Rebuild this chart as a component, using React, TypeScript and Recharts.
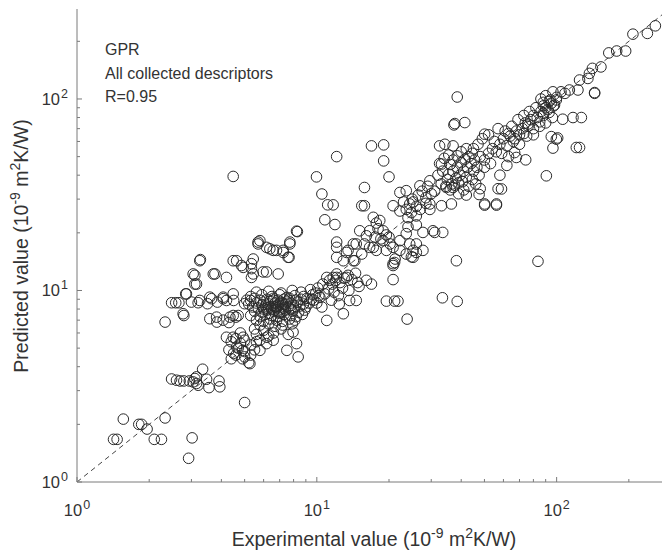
import React from 'react'
import { ScatterChart, Scatter, XAxis, YAxis, ReferenceLine } from 'recharts'

// axis ranges and tick positions (log scale, decades get labels)
const xDomain = [1, 275]
const yDomain = [1, 295]
const decades = [1, 10, 100]
const xTicks = [1, 2, 3, 4, 5, 6, 7, 8, 9, 10, 20, 30, 40, 50, 60, 70, 80, 90, 100, 200]
const yTicks = [1, 2, 3, 4, 5, 6, 7, 8, 9, 10, 20, 30, 40, 50, 60, 70, 80, 90, 100, 200]

const annotation = ['GPR', 'All collected descriptors', 'R=0.95']

const lowPoints = [
  [1.42, 1.67], [1.47, 1.67], [1.56, 2.13], [1.81, 2.0], [1.86, 2.0], [1.96, 1.89], [2.1, 1.67], [2.25, 1.67],
  [2.33, 2.16], [3.02, 1.7], [2.92, 1.33], [2.48, 3.45], [2.69, 3.37], [2.79, 3.37], [2.94, 3.37], [3.1, 3.47],
  [3.15, 3.27], [3.34, 3.88], [3.47, 3.44], [3.55, 3.11], [3.91, 3.37], [3.94, 3.14], [3.15, 3.54], [3.05, 3.33],
  [3.2, 3.2], [2.6, 3.4], [5.0, 2.6],
]

const leftBand = [
  [4.2, 5.7], [4.4, 5.4], [4.6, 5.6], [4.8, 5.3], [5.0, 5.5], [5.3, 5.2], [5.6, 5.4], [4.3, 4.9], [4.5, 4.7],
  [4.7, 5.0], [5.0, 4.8], [5.3, 4.6], [5.5, 4.9], [4.4, 4.4], [4.6, 4.6], [4.9, 4.4], [5.2, 4.2], [5.26, 4.15],
  [5.0, 4.5], [4.9, 4.87], [5.79, 4.87], [6.58, 5.5], [7.96, 6.07], [8.23, 5.28], [8.36, 4.5], [5.6, 5.9],
  [6.2, 5.7], [4.8, 6.0], [4.07, 7.0], [4.3, 6.8], [7.5, 4.87], [6.17, 5.28], [5.79, 5.5], [4.93, 5.7],
  [4.48, 5.7], [4.63, 5.07], [6.0, 6.2], [6.6, 6.0], [7.1, 6.3], [7.6, 5.9], [6.3, 5.8], [5.5, 6.3],
  [2.48, 8.63], [2.58, 8.63], [2.66, 8.63], [3.0, 8.7], [3.2, 8.63], [3.64, 9.06], [4.07, 9.06], [2.33, 6.84],
  [2.79, 7.4], [2.84, 9.6], [3.1, 10.8], [3.1, 12.0], [3.25, 14.3], [3.27, 14.5], [3.58, 7.12], [3.83, 6.84],
  [3.76, 12.2], [4.2, 11.7], [4.48, 14.3], [4.85, 13.5], [5.43, 14.6], [5.43, 12.2], [6.17, 12.5], [6.9, 12.2],
  [5.34, 13.0], [3.5, 8.53], [3.85, 8.7], [4.2, 8.87], [4.5, 8.87], [5.0, 8.53], [5.3, 8.87], [4.48, 7.4],
  [4.6, 7.26], [4.7, 7.4], [3.05, 12.2], [3.15, 10.8], [3.7, 12.2], [2.86, 9.6], [3.25, 8.87], [2.77, 7.56],
  [3.58, 9.23], [4.07, 9.23], [4.48, 9.6], [3.82, 7.26], [4.34, 7.26], [4.63, 14.3], [4.93, 13.2], [5.34, 13.8],
  [5.97, 12.5], [5.34, 11.7],
]

const denseCluster = [
  [5.6, 9.8], [6.3, 9.9], [7.1, 9.7], [7.9, 10.0], [8.6, 9.8], [9.4, 10.1],
  [5.3, 9.3], [5.9, 9.5], [6.5, 9.3], [7.0, 9.5], [7.5, 9.2], [8.1, 9.4], [8.8, 9.3], [9.6, 9.5], [10.2, 9.4],
  [5.1, 8.9], [5.5, 9.1], [5.8, 8.9], [6.2, 9.0], [6.6, 9.1], [6.9, 8.9], [7.3, 9.0], [7.7, 9.1], [8.2, 8.9],
  [8.6, 9.0], [9.1, 9.1], [9.7, 8.9],
  [5.2, 8.5], [5.6, 8.6], [6.0, 8.7], [6.3, 8.5], [6.7, 8.6], [7.1, 8.7], [7.4, 8.5], [7.8, 8.6], [8.3, 8.7],
  [8.8, 8.5], [9.3, 8.6],
  [5.4, 8.2], [5.7, 8.1], [6.1, 8.3], [6.4, 8.2], [6.8, 8.1], [7.2, 8.3], [7.6, 8.2], [8.0, 8.1], [8.5, 8.3], [9.0, 8.2],
  [5.5, 7.8], [5.9, 7.7], [6.2, 7.9], [6.6, 7.8], [7.0, 7.7], [7.4, 7.9], [7.9, 7.8], [8.4, 7.7], [8.9, 7.9],
  [5.3, 7.4], [5.8, 7.3], [6.1, 7.5], [6.5, 7.4], [6.9, 7.3], [7.3, 7.5], [7.8, 7.4], [8.2, 7.3], [8.7, 7.5],
  [5.6, 7.0], [6.0, 6.9], [6.4, 7.1], [6.8, 7.0], [7.2, 6.9], [7.7, 7.1], [8.1, 7.0],
  [5.8, 6.6], [6.3, 6.7], [6.7, 6.5], [7.2, 6.6], [7.9, 6.7],
  [6.5, 8.0], [6.9, 8.4], [7.1, 8.0], [6.0, 8.0], [7.5, 8.7], [7.0, 7.6], [6.3, 7.6], [6.6, 8.9], [7.8, 8.0], [5.9, 8.4],
  [6.4, 8.8], [6.8, 8.3], [7.3, 8.1], [6.2, 8.1], [7.6, 8.9], [6.9, 7.8], [6.7, 8.2], [7.2, 8.6],
  [10.3, 9.2], [10.8, 9.6], [11.2, 10.2], [11.6, 10.8], [12.0, 11.3], [12.5, 11.0], [13.0, 11.6], [13.5, 12.0],
  [14.0, 11.4], [14.5, 12.3], [10.6, 10.8], [11.3, 11.3], [11.0, 11.7], [12.1, 12.2], [13.3, 11.7], [14.2, 14.3],
  [13.7, 8.87], [14.6, 8.87], [11.0, 6.98], [12.9, 7.56], [10.0, 8.6], [10.5, 8.2], [11.5, 8.9], [12.3, 9.4],
  [12.8, 10.3], [13.6, 10.0], [15.0, 10.5], [14.8, 11.0], [9.5, 9.0], [9.9, 9.7], [10.1, 10.3], [12.4, 8.5],
  [11.8, 9.8], [16.1, 11.3], [16.9, 10.8], [11.7, 11.7], [12.1, 11.7],
]

const midPoints = [
  [5.69, 17.5], [6.37, 16.5], [6.79, 16.2], [7.24, 16.2], [7.72, 17.5], [7.59, 14.9], [5.69, 17.9], [6.17, 16.8],
  [7.72, 17.9], [8.23, 20.4], [8.3, 20.3], [7.24, 15.8], [6.58, 16.2], [5.79, 18.2], [7.66, 14.9], [4.48, 39.4],
  [12.1, 50], [9.97, 39.2], [10.5, 31.9], [11.1, 28.0], [11.7, 28.0], [10.8, 23.4], [11.9, 22.1], [16.9, 56.9],
  [19.0, 57.6], [19.0, 47.5], [20.0, 39.2], [15.8, 34.5],
  [15.4, 15.5], [12.1, 16.8], [13.5, 16.2], [12.1, 14.9], [14.4, 14.3], [14.2, 17.5], [15.8, 17.5], [17.2, 16.8],
  [12.1, 17.9], [13.3, 15.8], [12.9, 14.3], [14.6, 17.5],
  [16.1, 19.3], [15.1, 20.5], [16.6, 16.8], [17.7, 16.2], [19.5, 16.2], [20.8, 16.8], [22.2, 18.2], [23.6, 19.8],
  [25.2, 14.9], [27.7, 16.2], [30.5, 20.5], [33.5, 20.1], [20.8, 13.8], [21.2, 14.6], [24.4, 17.5], [26.0, 17.5],
  [18.3, 23.2], [18.9, 20.5], [18.0, 21.0], [19.5, 19.5], [17.5, 19.0], [18.5, 18.6], [20.0, 19.0], [17.7, 22.5],
  [16.6, 20.5], [15.4, 27.7], [15.8, 27.7], [17.2, 24.1],
  [20.8, 27.7], [22.2, 32.5], [23.6, 33.2], [24.4, 28.3], [26.9, 35.2], [29.6, 37.4], [29.6, 28.3], [33.1, 27.7],
  [36.4, 28.3], [23.0, 29.0], [23.6, 26.5], [25.2, 29.0], [22.2, 26.0], [24.8, 25.5], [26.0, 24.5], [24.0, 24.0],
  [27.0, 26.5], [28.5, 28.5], [29.6, 26.5], [24.0, 21.5], [26.0, 22.0], [23.6, 15.5], [24.8, 15.0],
  [21.1, 14.0], [20.8, 13.5], [26.0, 15.8], [25.2, 16.2], [22.2, 16.2], [20.2, 17.5], [18.9, 18.2],
  [31.0, 20.1], [27.7, 20.1], [50.1, 27.9], [56.1, 27.9],
]

const outliers = [
  [38.2, 14.3], [83.6, 14.2], [33.4, 9.16], [38.5, 8.77], [20.8, 11.4], [19.5, 8.8], [21.1, 8.8], [21.8, 8.8],
  [23.8, 7.09], [90.6, 39.7], [38.5, 102.4], [37.6, 74.4], [41.4, 75.3], [37.3, 73.2],
]

const upperBand = [
  [34.2, 58], [37, 56.9], [32.5, 56.9], [33.1, 45.7], [34.7, 34.5], [37.0, 34.5], [50.1, 65.5],
  [32.0, 40.0], [33.5, 42.0], [35.0, 38.0], [36.5, 36.0], [38.0, 38.5], [39.5, 40.0], [41.0, 42.0], [42.5, 44.0],
  [44.0, 46.0], [45.5, 48.0], [33.0, 36.0], [34.5, 35.0], [36.0, 33.5], [37.5, 35.5], [39.0, 36.5], [40.5, 37.0],
  [42.0, 39.0], [35.5, 40.5], [37.0, 42.0], [38.5, 44.0], [40.0, 46.5], [41.5, 48.5], [43.0, 50.0], [34.0, 49.0],
  [35.5, 51.0], [37.0, 48.0], [38.5, 50.5], [40.0, 53.0], [32.5, 46.0], [36.0, 45.5], [42.0, 55.0], [44.5, 52.0],
  [46.5, 44.0], [47.5, 40.0], [45.0, 42.0], [39.0, 32.0], [41.0, 33.5], [43.0, 35.0], [44.5, 38.0], [46.0, 36.0],
  [48.0, 34.0], [47.5, 31.7], [42.0, 31.5], [57, 34], [58.9, 33.9], [50.1, 28.3], [56.1, 28.3],
  [25.0, 30.0], [26.5, 31.5], [27.5, 33.0], [28.5, 30.5], [30.0, 32.0], [29.0, 35.0], [31.0, 33.0], [26.0, 27.5],
  [66.8, 52.5], [67.9, 49.5], [74.3, 48.1], [96.5, 55.4], [99.7, 61.7], [120.8, 55.8], [124.6, 55.8],
  [48.0, 50.0], [50.0, 48.0], [52.0, 52.0], [54.0, 55.0], [56.0, 53.0], [58.0, 58.0], [60.0, 62.0], [62.0, 57.0],
  [64.0, 64.0], [66.0, 60.0], [68.0, 68.0], [70.0, 65.0], [72.0, 70.0], [74.0, 75.0], [76.0, 72.0], [78.0, 78.0],
  [80.0, 82.0], [83.0, 80.0], [86.0, 86.0], [88.0, 84.0], [90.0, 90.0], [92.0, 88.0], [95.0, 95.0], [98.0, 93.0],
  [50.0, 44.0], [53.0, 46.0], [55.0, 60.0], [59.0, 52.0], [61.0, 68.0], [63.0, 50.0], [45.0, 55.0], [47.0, 58.0],
  [49.0, 62.0], [52.0, 65.0], [57.0, 70.0], [65.0, 72.0], [69.0, 78.0], [73.0, 82.0], [77.0, 86.0], [82.0, 90.0],
  [85.0, 76.0], [88.0, 96.0], [70.0, 58.0], [75.0, 64.0], [80.0, 70.0], [58.0, 40.0], [62.0, 45.0],
  [88, 82], [93, 85], [90, 75], [96, 80], [85, 72], [76, 74], [73, 66], [80, 65], [67, 62], [63, 66],
  [86, 100], [90, 104], [93, 97], [88, 92], [100, 102], [97, 92], [95, 63.6], [101, 62.6],
  [117, 80], [126.8, 80], [106, 78.4], [144, 108], [96.5, 109], [104.3, 109], [108.3, 107], [99.7, 98.8], [94.0, 98.8],
  [208, 218], [239, 220], [258, 241], [165, 174], [178, 178], [194, 178], [141, 144.5], [153, 147], [137, 136],
  [124.6, 125.6], [135, 128], [122.7, 111.4], [144, 107], [113, 111.4],
]

const points = [...lowPoints, ...leftBand, ...denseCluster, ...midPoints, ...outliers, ...upperBand].map(
  ([x, y]) => ({ x, y })
)

const axisColor = '#7a7a7a'
const textColor = '#333'
const font = '"Liberation Sans", Arial, sans-serif'
const supStyle = { fontSize: 14, verticalAlign: 'baseline', position: 'relative' as const, top: -8 }

function Ring(props: any) {
  const { cx, cy } = props
  return <circle cx={cx} cy={cy} r={5.3} fill="none" stroke="#2a2a2a" strokeWidth={1} />
}

function Pow({ v }: { v: number }) {
  return (
    <>
      10<tspan dx={1} dy={-7} fontSize={12.5}>{Math.round(Math.log10(v))}</tspan>
    </>
  )
}

function BottomTick({ x, y, payload }: any) {
  const major = decades.includes(payload.value)
  return (
    <g>
      <line x1={x} x2={x} y1={y} y2={y - (major ? 5 : 3)} stroke={axisColor} />
      {major && (
        <text x={x} y={y + 34} textAnchor="middle" fontSize={16.5} fill={textColor} fontFamily={font}>
          <Pow v={payload.value} />
        </text>
      )}
    </g>
  )
}

function TopTick({ x, y, payload }: any) {
  const major = decades.includes(payload.value)
  return <line x1={x} x2={x} y1={y} y2={y + (major ? 5 : 3)} stroke={axisColor} />
}

function LeftTick({ x, y, payload }: any) {
  const major = decades.includes(payload.value)
  return (
    <g>
      <line x1={x} x2={x + (major ? 5 : 3)} y1={y} y2={y} stroke={axisColor} />
      {major && (
        <text x={x - 9} y={y + 6} textAnchor="end" fontSize={16.5} fill={textColor} fontFamily={font}>
          <Pow v={payload.value} />
        </text>
      )}
    </g>
  )
}

function RightTick({ x, y, payload }: any) {
  const major = decades.includes(payload.value)
  return <line x1={x} x2={x - (major ? 5 : 3)} y1={y} y2={y} stroke={axisColor} />
}

export default function App() {
  return (
    <div style={{ position: 'absolute', left: 0, top: 0, width: 664, height: 553, background: '#fff', fontFamily: font, color: textColor }}>
      <ScatterChart width={664} height={553} margin={{ top: 9, right: 2, bottom: 0, left: 0 }}>
        <XAxis
          xAxisId="b"
          dataKey="x"
          type="number"
          scale="log"
          domain={xDomain}
          allowDataOverflow
          ticks={xTicks}
          interval={0}
          tickSize={0}
          tickMargin={0}
          tickLine={false}
          tick={<BottomTick />}
          stroke={axisColor}
          height={71}
        />
        <XAxis
          xAxisId="t"
          orientation="top"
          type="number"
          scale="log"
          domain={xDomain}
          allowDataOverflow
          ticks={xTicks}
          interval={0}
          tickSize={0}
          tickMargin={0}
          tickLine={false}
          tick={<TopTick />}
          stroke={axisColor}
          height={0}
        />
        <YAxis
          yAxisId="l"
          dataKey="y"
          type="number"
          scale="log"
          domain={yDomain}
          allowDataOverflow
          ticks={yTicks}
          interval={0}
          tickSize={0}
          tickMargin={0}
          tickLine={false}
          tick={<LeftTick />}
          stroke={axisColor}
          width={77}
        />
        <YAxis
          yAxisId="r"
          orientation="right"
          type="number"
          scale="log"
          domain={yDomain}
          allowDataOverflow
          ticks={yTicks}
          interval={0}
          tickSize={0}
          tickMargin={0}
          tickLine={false}
          tick={<RightTick />}
          stroke={axisColor}
          width={0}
        />
        <ReferenceLine
          xAxisId="b"
          yAxisId="l"
          segment={[{ x: 1, y: 1 }, { x: 275, y: 275 }]}
          stroke="#444"
          strokeDasharray="5 4"
          ifOverflow="hidden"
        />
        <Scatter xAxisId="b" yAxisId="l" data={points} shape={<Ring />} isAnimationActive={false} />
      </ScatterChart>

      <div style={{ position: 'absolute', left: 105, top: 38, fontSize: 16, lineHeight: '23.5px' }}>
        {annotation.map((s) => (
          <div key={s}>{s}</div>
        ))}
      </div>

      <div style={{ position: 'absolute', left: 0, width: 748, top: 527, textAlign: 'center', fontSize: 19.5, lineHeight: '24px', whiteSpace: 'nowrap' }}>
        Experimental value (10<span style={supStyle}>-9</span> m<span style={supStyle}>2</span>K/W)
      </div>

      <div
        style={{
          position: 'absolute', left: 22, top: 246, fontSize: 19.5, lineHeight: '24px', whiteSpace: 'nowrap',
          transform: 'translate(-50%, -50%) rotate(-90deg)',
        }}
      >
        Predicted value (10<span style={supStyle}>-9</span> m<span style={supStyle}>2</span>K/W)
      </div>
    </div>
  )
}
